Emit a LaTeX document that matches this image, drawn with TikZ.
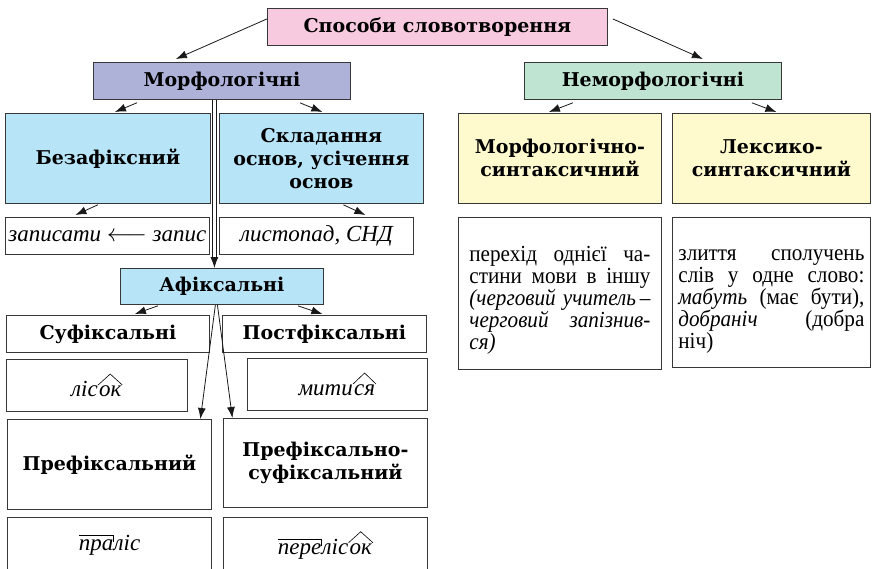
\documentclass[tikz,border=0pt]{standalone}
\usepackage{fontspec}
\setmainfont{DejaVu Serif}
\newfontfamily\bodyfont{Liberation Serif}
\newfontfamily\notefont{Liberation Serif}[FakeStretch=0.92]
\usetikzlibrary{positioning, arrows.meta}

\definecolor{boxline}{RGB}{55,55,55}
\definecolor{rosefill}{RGB}{248,202,224}
\definecolor{lilacfill}{RGB}{174,178,216}
\definecolor{mintfill}{RGB}{192,228,210}
\definecolor{skyfill}{RGB}{184,228,248}
\definecolor{creamfill}{RGB}{255,249,206}

% morpheme marks: prefix bar and suffix roof
\newcommand\premark[1]{\tikz[baseline=(pm.base)]{\node[anchor=center, inner sep=0pt, outer sep=0pt, draw=none, fill=none, minimum width=0pt, minimum height=0pt] (pm) {#1};
  \draw[draw=black, line width=0.6pt] ([yshift=4pt]pm.north west) -- ([yshift=4pt]pm.north east) -- ([yshift=-2pt]pm.north east);}}
\newcommand\sufmark[1]{\tikz[baseline=(sm.base)]{\node[anchor=center, inner sep=0pt, outer sep=0pt, draw=none, fill=none, minimum width=0pt, minimum height=0pt] (sm) {#1};
  \draw[draw=black, line width=0.6pt] ([xshift=-1pt, yshift=1pt]sm.north west) -- ([yshift=12pt]sm.north) -- ([xshift=1pt, yshift=1pt]sm.north east);}}

\begin{document}
\begin{tikzpicture}[x=1pt, y=-1pt,
    head/.style={draw=boxline, line width=0.8pt, anchor=north west, align=center,
        inner sep=2pt, font=\fontsize{19}{23}\selectfont\bfseries},
    sample/.style={head, fill=white, font=\fontsize{23}{26}\selectfont\bodyfont\itshape},
    note/.style={draw=boxline, line width=0.8pt, anchor=north west, align=justify,
        inner ysep=2pt, font=\fontsize{23}{22}\selectfont\notefont},
    arr/.style={draw=black!90, line width=0.8pt, -{Latex[length=11pt, width=8pt]}}]
  \useasboundingbox (0,0) rectangle (872,568);

  % top level
  \node[head, fill=rosefill, minimum width=340pt, minimum height=37pt] (root) at (267,8) {Способи словотворення};
  \node[head, fill=lilacfill, minimum width=257pt, minimum height=37pt] (morph) at (93,62) {Морфологічні};
  \node[head, fill=mintfill, minimum width=257pt, minimum height=37pt] (nonmorph) at (524,62) {Неморфологічні};

  % morphological
  \node[head, fill=skyfill, minimum width=205pt, minimum height=90pt] (nonaffix) at (5,113) {Безафіксний};
  \node[head, fill=skyfill, minimum width=204pt, minimum height=90pt] (compound) at (219,113) {Складання\\основ, усічення\\основ};
  \node[sample, minimum width=204pt, minimum height=37pt] (nonaffixex) at (5,217) {записати $\longleftarrow$ запис};
  \node[sample, minimum width=194pt, minimum height=37pt] (compoundex) at (219,217) {листопад, СНД};

  \node[head, fill=skyfill, minimum width=203pt, minimum height=36pt] (affix) at (120,268) {Афіксальні};
  \node[head, fill=white, minimum width=203pt, minimum height=37pt] (suffix) at (6,315) {Суфіксальні};
  \node[head, fill=white, minimum width=204pt, minimum height=37pt] (postfix) at (222,315) {Постфіксальні};
  \node[sample, minimum width=181pt, minimum height=52pt] (suffixex) at (6,359) {ліс\sufmark{ок}};
  \node[sample, minimum width=180pt, minimum height=52pt] (postfixex) at (247,358) {мити\sufmark{ся}};
  \node[head, fill=white, minimum width=204pt, minimum height=90pt] (prefix) at (7,419) {Префіксальний};
  \node[head, fill=white, minimum width=204pt, minimum height=89pt] (prefsuf) at (223,418) {Префіксально-\\суфіксальний};
  \node[sample, minimum width=204pt, minimum height=56pt] (prefixex) at (7,517) {\premark{пра}ліс};
  \node[sample, minimum width=204pt, minimum height=56pt] (prefsufex) at (223,517) {\premark{пере}ліс\sufmark{ок}};

  % non-morphological
  \node[head, fill=creamfill, minimum width=203pt, minimum height=90pt] (morphsyn) at (458,113) {Морфологічно-\\синтаксичний};
  \node[head, fill=creamfill, minimum width=198pt, minimum height=90pt] (lexsyn) at (672,113) {Лексико-\\синтаксичний};
  \node[note, inner xsep=11pt, text width=181pt, minimum height=152pt] (morphsynex) at (458,217) {%
    \rule{0pt}{30pt}перехід однієї ча-\linebreak
    стини мови в іншу\linebreak
    {\itshape (черговий учитель\,–\linebreak
    черговий запізнив-\linebreak
    ся)}};
  \node[note, inner xsep=6pt, text width=186pt, minimum height=150pt] (lexsynex) at (672,217) {%
    \rule{0pt}{30pt}злиття сполучень\linebreak
    слів у одне слово:\linebreak
    {\itshape мабуть} (має бути),\linebreak
    {\itshape добраніч} (добра\linebreak
    ніч)};

  % connectors
  \draw[arr] ([yshift=8pt]root.west) -- ([xshift=-46pt, yshift=3pt]morph.north);
  \draw[arr] ([xshift=5pt, yshift=8pt]root.east) -- ([xshift=50pt, yshift=3pt]nonmorph.north);
  \draw[arr] ([xshift=-85pt, yshift=-3pt]morph.south) -- ([xshift=7pt, yshift=1pt]nonaffix.north);
  \draw[arr] ([xshift=78pt, yshift=-3pt]morph.south) -- ([xshift=1pt, yshift=1pt]compound.north);
  \draw[arr] ([xshift=-10pt, yshift=-1pt]nonaffix.south) -- ([xshift=-32pt, yshift=2pt]nonaffixex.north);
  \draw[arr] ([xshift=22pt, yshift=-1pt]compound.south) -- ([xshift=49pt, yshift=2pt]compoundex.north);
  \draw[arr, double, double distance=3pt] ([xshift=-7.5pt]morph.south) -- ([xshift=-7.5pt]affix.north);
  \draw[arr] ([xshift=-80pt, yshift=-3pt]nonmorph.south) -- ([xshift=-11pt, yshift=1pt]morphsyn.north);
  \draw[arr] ([xshift=99pt, yshift=-3pt]nonmorph.south) -- ([xshift=5pt, yshift=1pt]lexsyn.north);
  \draw[arr] ([xshift=-64pt, yshift=-1pt]affix.south) -- ([xshift=27pt, yshift=1pt]suffix.north);
  \draw[arr] ([xshift=76pt, yshift=-1pt]affix.south) -- ([xshift=-2pt, yshift=1pt]postfix.north);
  \draw[arr] ([xshift=-6.5pt]affix.south) -- ([xshift=91pt]prefix.north);
  \draw[arr] ([xshift=-4.5pt]affix.south) -- ([xshift=-93pt]prefsuf.north);
\end{tikzpicture}
\end{document}
